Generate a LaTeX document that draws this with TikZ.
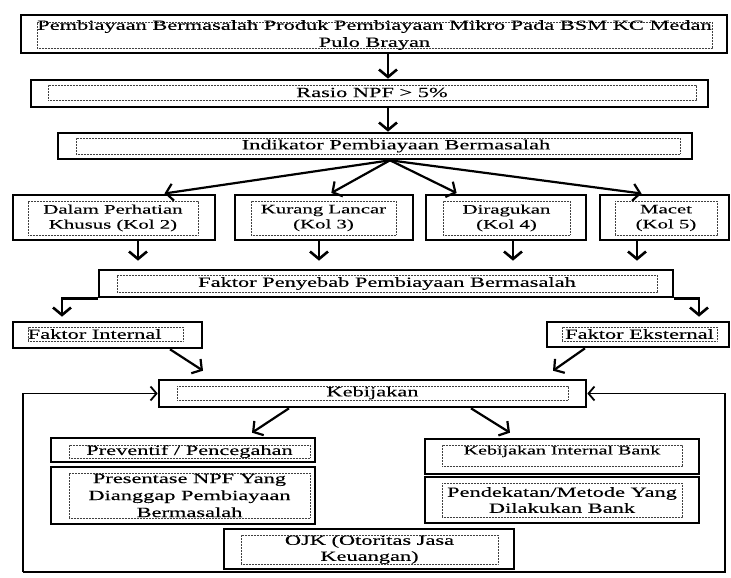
\documentclass[tikz,border=0pt]{standalone}
\usepackage{fontspec}
\setmainfont{Liberation Serif}[FakeStretch=1.6,FakeBold=0.25]
\usetikzlibrary{arrows.meta,fit,calc}
\tikzset{
  outerbox/.style={draw=black, line width=2.6pt, inner sep=0pt, rectangle},
  innerbox/.style={draw=black!75, line width=0.8pt, dash pattern=on 0.8pt off 0.7pt, inner sep=0pt, rectangle},
  txt/.style={inner sep=0pt, align=center, font=\fontsize{14}{17}\selectfont},
  varr/.style={line width=2.6pt, -{Straight Barb[length=7.5pt,width=18pt]}},
  darr/.style={line width=2.2pt, -{Straight Barb[length=7pt,width=17pt]}},
  larr/.style={line width=1.8pt, -{Straight Barb[length=6pt,width=14pt]}},
}
\newcommand\twobox[6]{%
  \node[outerbox, fit={#2}] (#1) {};
  \node[innerbox, fit={#3}] (#1-in) {};
  \node[txt, #5] (#1-tx) at #4 {#6};}
\begin{document}
\begin{tikzpicture}[x=1pt,y=-1pt]
\useasboundingbox (0,0) rectangle (731,578);
\fill[white] (0,0) rectangle (731,578);

\twobox{top}{(21,15) (727,53)}{(37,22) (712,48)}{(top-in.center)}{}{Pembiayaan Bermasalah Produk Pembiayaan Mikro Pada BSM KC Medan\\Pulo Brayan}
\twobox{rasio}{(31,80) (708,107)}{(48,85) (696,100)}{(rasio-in.center)}{}{Rasio NPF > 5\%}
\twobox{indikator}{(58,133) (692,159)}{(76,138) (680,154)}{([xshift=18pt]indikator-in.center)}{}{Indikator Pembiayaan Bermasalah}

\twobox{box1}{(13,195) (215,240)}{(28,201) (198,235)}{(box1-in.center)}{font=\fontsize{13}{15}\selectfont}{Dalam Perhatian\\Khusus (Kol 2)}
\twobox{box2}{(235,195) (413,240)}{(251,201) (396,235)}{(box2-in.center)}{font=\fontsize{13}{15}\selectfont}{Kurang Lancar\\(Kol 3)}
\twobox{box3}{(426,195) (586,240)}{(443,201) (570,235)}{(box3-in.center)}{font=\fontsize{13}{15}\selectfont}{Diragukan\\(Kol 4)}
\twobox{box4}{(600,195) (729,240)}{(615,201) (717,235)}{(box4-in.center)}{font=\fontsize{13}{15}\selectfont}{Macet\\(Kol 5)}

\twobox{penyebab}{(99,270) (673,297)}{(117,275) (657,292)}{(penyebab-in.center)}{}{Faktor Penyebab Pembiayaan Bermasalah}
\twobox{internal}{(13,322) (202,348)}{(28,327) (183,341)}{(internal-in.west)}{anchor=west}{Faktor Internal}
\twobox{eksternal}{(547,322) (729,347)}{(562,327) (717,341)}{(eksternal-in.center)}{}{Faktor Eksternal}

\twobox{kebijakan}{(159,380) (586,407)}{(177,386) (568,400)}{(kebijakan-in.center)}{}{Kebijakan}

\twobox{preventif}{(51,438) (315,462)}{(69,445) (310,458)}{(preventif-in.center)}{}{Preventif / Pencegahan}
\twobox{presentase}{(51,467) (315,524)}{(69,473) (310,518)}{(presentase-in.center)}{}{Presentase NPF Yang\\Dianggap Pembiayaan\\Bermasalah}
\twobox{kib}{(425,439) (699,474)}{(442,445) (682,466)}{([yshift=-1pt]kib-in.north)}{anchor=north, font=\fontsize{12.5}{15}\selectfont}{Kebijakan Internal Bank}
\twobox{pendekatan}{(425,477) (699,523)}{(442,483) (682,517)}{(pendekatan-in.center)}{font=\fontsize{14}{16}\selectfont}{Pendekatan/Metode Yang\\Dilakukan Bank}
\twobox{ojk}{(224,529) (514,569)}{(241,535) (498,564)}{(ojk-in.center)}{font=\fontsize{14}{16}\selectfont}{OJK (Otoritas Jasa\\Keuangan)}

% vertical arrows at top
\draw[varr] ([xshift=14pt]top.south) -- ([xshift=14pt]top.south |- rasio.north);
\draw[varr] ([xshift=18.5pt]rasio.south) -- ([xshift=18.5pt]rasio.south |- indikator.north);

% indikator to the four categories
\draw[darr, shorten >=1.5pt] ([xshift=15pt]indikator.south) -- ([xshift=49pt]box1.north);
\draw[darr, shorten >=1.5pt] ([xshift=15pt]indikator.south) -- ([xshift=6pt]box2.north);
\draw[darr, shorten >=1.5pt] ([xshift=15pt]indikator.south) -- ([xshift=-48pt]box3.north);
\draw[darr, shorten >=1.5pt] ([xshift=15pt]indikator.south) -- ([xshift=-21.5pt]box4.north);

% categories to penyebab
\draw[varr, shorten >=8pt] ([xshift=24pt]box1.south) -- ([xshift=24pt]box1.south |- penyebab.north);
\draw[varr, shorten >=8pt] ([xshift=-5pt]box2.south) -- ([xshift=-5pt]box2.south |- penyebab.north);
\draw[varr, shorten >=8pt] ([xshift=7pt]box3.south) -- ([xshift=7pt]box3.south |- penyebab.north);
\draw[varr, shorten >=8pt] ([xshift=-27.5pt]box4.south) -- ([xshift=-27.5pt]box4.south |- penyebab.north);

% penyebab branches
\draw[varr, shorten >=4pt] (penyebab.south west) -| ([xshift=-45.5pt]internal.north);
\draw[varr, shorten >=4pt] (penyebab.south east) -| ([xshift=61pt]eksternal.north);

% factors to kebijakan
\draw[darr] ([xshift=62.5pt]internal.south) -- ([xshift=-169.5pt,yshift=8pt]kebijakan.north);
\draw[darr] ([xshift=-53pt]eksternal.south) -- ([xshift=180.5pt,yshift=8pt]kebijakan.north);

% kebijakan to lower boxes
\draw[darr] ([xshift=-83.5pt]kebijakan.south) -- ([xshift=69pt,yshift=4pt]preventif.north);
\draw[darr] ([xshift=98.5pt]kebijakan.south) -- ([xshift=-52pt,yshift=5pt]kib.north);

% feedback loop
\coordinate (lb) at (23,572);
\coordinate (rb) at (725,572);
\draw[larr] (lb) |- (kebijakan.west);
\draw[larr] (lb) -- (rb) |- (kebijakan.east);
\end{tikzpicture}
\end{document}
